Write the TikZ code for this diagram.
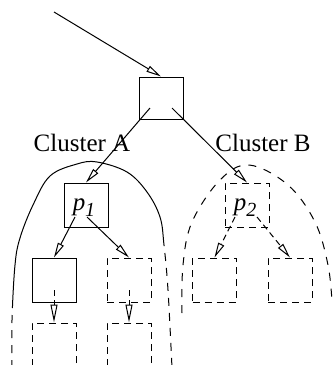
\documentclass[tikz,border=0pt]{standalone}
\usepackage{fontspec}
\setmainfont{Liberation Serif}
\usetikzlibrary{arrows.meta}
\begin{document}
\begin{tikzpicture}[x=1pt,y=-1pt,
  line width=1pt,
  box/.style={draw, minimum width=44pt, minimum height=44pt, inner sep=0pt},
  dbox/.style={box, dash pattern=on 7pt off 5pt},
  arr/.style={-{Triangle[open,length=15pt,width=6.5pt]}},
  darr/.style={arr, dash pattern=on 6pt off 4pt},
  garr/.style={-{Triangle[open,length=18pt,width=7pt]}, dash pattern=on 6pt off 4pt},
  lbl/.style={font=\fontsize{25}{30}\selectfont, inner sep=0pt},
  plbl/.style={font=\fontsize{25}{30}\selectfont\itshape, inner sep=0pt}]
\useasboundingbox (0,0) rectangle (333,365);
\clip (0,0) rectangle (333,365);

% root and the entry edge
\coordinate (start) at (54,12);
\node[box, minimum height=42pt] (root) at (161,98) {};
\draw[arr] (start) -- (root.north);

% cluster labels
\node[lbl] (la) at (82,143) {Cluster A};
\node[lbl] (lb) at (263,143) {Cluster B};

% cluster A
\node[box] (p1) at (86,205) {};
\node[plbl] (p1t) at (84,208) {p\raisebox{-6pt}{\fontsize{20}{24}\selectfont 1}};
\node[box] (a1) at (54,280) {};
\node[dbox] (a2) at (129,280) {};
\node[dbox] (a3) at (54,345) {};
\node[dbox] (a4) at (129,345) {};

% cluster B
\node[dbox] (p2) at (247,205) {};
\node[plbl] (p2t) at (245,208) {p\raisebox{-6pt}{\fontsize{20}{24}\selectfont 2}};
\node[dbox] (b1) at (214.5,280) {};
\node[dbox] (b2) at (290,280) {};

% edges
\draw[arr] ([xshift=-11pt,yshift=-10pt]root.center) -- (p1.north);
\draw[arr] ([xshift=11pt,yshift=-10pt]root.center) -- (p2.north);
\draw[arr] ([xshift=-11pt,yshift=-12pt]p1.center) -- (a1.north);
\draw[arr] ([xshift=1pt,yshift=-12pt]p1.center) -- (a2.north);
\draw[garr] ([yshift=-10pt]a1.center) -- (a3.north);
\draw[garr] ([yshift=-10pt]a2.center) -- (a4.north);
\draw[darr] ([xshift=-12pt,yshift=-12pt]p2.center) -- (b1.north);
\draw[darr] ([xshift=10pt,yshift=-12pt]p2.center) -- (b2.north);

% cluster A outline: solid above, dashed below
\def\clusterA{plot[smooth, tension=0.6] coordinates {(12,368) (12,320) (15,265) (20,238) (33,205) (50,176) (77,164) (97,162) (127,172) (147,192) (160,217) (164,245) (168,290) (172,368)}}
\begin{scope}
  \clip (0,0) rectangle (90,307) (90,0) rectangle (333,238);
  \draw \clusterA;
\end{scope}
\begin{scope}
  \clip (0,307) rectangle (90,365) (90,238) rectangle (333,365);
  \draw[dash pattern=on 8pt off 7pt] \clusterA;
\end{scope}

% cluster B outline
\draw[dash pattern=on 8pt off 8pt] plot[smooth, tension=0.6] coordinates {(182,313) (183,265) (192,222) (220,180) (249,165) (288,185) (315,222) (328,265) (332,302)};
\end{tikzpicture}
\end{document}
